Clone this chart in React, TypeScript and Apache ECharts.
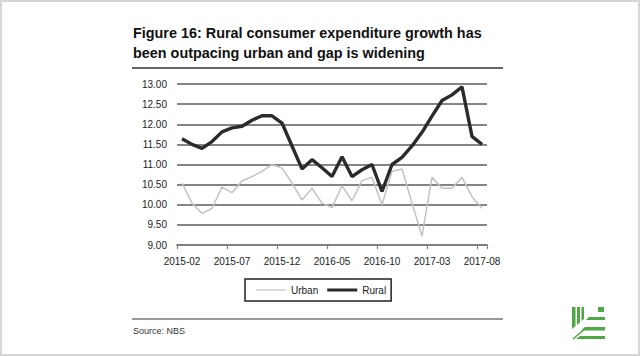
import React, { useEffect, useRef } from "react";
import * as echarts from "echarts";

const categories = [
  "2015-02", "2015-03", "2015-04", "2015-05", "2015-06", "2015-07", "2015-08", "2015-09",
  "2015-10", "2015-11", "2015-12", "2016-01", "2016-02", "2016-03", "2016-04", "2016-05",
  "2016-06", "2016-07", "2016-08", "2016-09", "2016-10", "2016-11", "2016-12", "2017-01",
  "2017-02", "2017-03", "2017-04", "2017-05", "2017-06", "2017-07", "2017-08",
];

const urban = [
  10.54, 10.04, 9.79, 9.91, 10.44, 10.3, 10.59, 10.7, 10.83, 11.0, 10.91, 10.54, 10.12, 10.41,
  10.04, 9.93, 10.47, 10.1, 10.6, 10.68, 10.0, 10.83, 10.89, 10.04, 9.22, 10.68, 10.41, 10.41,
  10.68, 10.2, 9.91,
];

const rural = [
  11.64, 11.5, 11.4, 11.57, 11.81, 11.91, 11.95, 12.1, 12.21, 12.21, 12.03, 11.46, 10.89, 11.12,
  10.92, 10.7, 11.19, 10.7, 10.87, 11.0, 10.33, 11.0, 11.18, 11.46, 11.8, 12.2, 12.59, 12.73,
  12.93, 11.7, 11.5,
];

const titleLines = [
  "Figure 16: Rural consumer expenditure growth has",
  "been outpacing urban and gap is widening",
];
const sourceText = "Source: NBS";

const FONT = "'Liberation Sans', Arial, sans-serif";
const GREEN = "#4fa845";

export default function App() {
  const ref = useRef<HTMLDivElement>(null);

  useEffect(() => {
    if (!ref.current) return;
    const chart = echarts.init(ref.current, null, { renderer: "svg" });
    chart.setOption({
      animation: false,
      backgroundColor: "#ffffff",
      textStyle: { fontFamily: FONT },
      grid: { left: 177, right: 153, top: 84, bottom: 111, containLabel: false },
      xAxis: {
        type: "category",
        data: categories,
        boundaryGap: true,
        axisLine: { show: true, lineStyle: { color: "#808080", width: 1.8 } },
        axisTick: { show: true, interval: 4, length: 4, lineStyle: { color: "#808080", width: 1.2 } },
        axisLabel: { interval: 4, fontSize: 10, color: "#222", margin: 11, fontFamily: FONT },
        splitLine: { show: false },
      },
      yAxis: {
        type: "value",
        min: 9,
        max: 13,
        interval: 0.5,
        axisLine: { show: false },
        axisTick: { show: false },
        axisLabel: {
          fontSize: 10,
          color: "#222",
          margin: 10,
          fontFamily: FONT,
          formatter: (v: number) => v.toFixed(2),
        },
        splitLine: { show: true, lineStyle: { color: "#858585", width: 1.8 } },
      },
      legend: {
        left: 245,
        top: 279,
        orient: "horizontal",
        padding: [6, 5, 6, 11],
        itemGap: 9,
        itemWidth: 30,
        itemHeight: 12,
        borderColor: "#222",
        borderWidth: 1.5,
        textStyle: { fontSize: 10, color: "#222", fontFamily: FONT },
        data: [
          { name: "Urban", icon: "path://M0,0 L30,0 L30,1 L0,1 Z", itemStyle: { color: "#b8b8b8" } },
          { name: "Rural", icon: "path://M0,0 L30,0 L30,3 L0,3 Z", itemStyle: { color: "#2b2b2b" } },
        ],
      },
      series: [
        {
          name: "Urban",
          type: "line",
          data: urban,
          symbol: "none",
          lineStyle: { color: "#c2c2c2", width: 1.5 },
          itemStyle: { color: "#b8b8b8" },
          z: 2,
        },
        {
          name: "Rural",
          type: "line",
          data: rural,
          symbol: "none",
          lineStyle: { color: "#2b2b2b", width: 3.4 },
          itemStyle: { color: "#2b2b2b" },
          z: 3,
        },
      ],
      graphic: [
        {
          type: "rect",
          shape: { x: 1, y: 1, width: 638, height: 354 },
          style: { fill: "none", stroke: "#d6d6d6", lineWidth: 2 },
          silent: true,
        },
        {
          type: "text",
          x: 133,
          y: 32.7,
          style: {
            text: titleLines[0],
            font: `bold 14.4px ${FONT}`,
            fill: "#111",
            verticalAlign: "middle",
          },
        },
        {
          type: "text",
          x: 133,
          y: 52.7,
          style: {
            text: titleLines[1],
            font: `bold 14.4px ${FONT}`,
            fill: "#111",
            verticalAlign: "middle",
          },
        },
        {
          type: "line",
          shape: { x1: 132, y1: 68, x2: 503, y2: 68 },
          style: { stroke: "#666", lineWidth: 2 },
        },
        {
          type: "line",
          shape: { x1: 132, y1: 319, x2: 503, y2: 319 },
          style: { stroke: "#777", lineWidth: 1.5 },
        },
        {
          type: "text",
          x: 133,
          y: 331,
          style: {
            text: sourceText,
            font: `9px ${FONT}`,
            fill: "#333",
            verticalAlign: "middle",
          },
        },
        {
          type: "group",
          children: [
            { type: "polygon", shape: { points: [[572, 307], [575.5, 307], [575.5, 326], [572, 329]] }, style: { fill: GREEN } },
            { type: "polygon", shape: { points: [[577, 307], [580, 307], [580, 322.5], [577, 325]] }, style: { fill: GREEN } },
            { type: "polygon", shape: { points: [[581.5, 307], [584, 307], [584, 319], [581.5, 321]] }, style: { fill: GREEN } },
            { type: "rect", shape: { x: 598, y: 307, width: 6, height: 5 }, style: { fill: GREEN } },
            { type: "polygon", shape: { points: [[589, 317], [605, 317], [605, 320], [586, 320]] }, style: { fill: GREEN } },
            { type: "polygon", shape: { points: [[585, 327], [605, 327], [605, 330.5], [581, 330.5]] }, style: { fill: GREEN } },
            { type: "polygon", shape: { points: [[580, 336], [605, 336], [605, 339], [576, 339]] }, style: { fill: GREEN } },
            { type: "line", shape: { x1: 573, y1: 339, x2: 586, y2: 328 }, style: { stroke: GREEN, lineWidth: 1.5 } },
          ],
        },
      ],
    });
    return () => chart.dispose();
  }, []);

  return (
    <div
      ref={ref}
      style={{ position: "absolute", left: 0, top: 0, width: 640, height: 356 }}
    />
  );
}
